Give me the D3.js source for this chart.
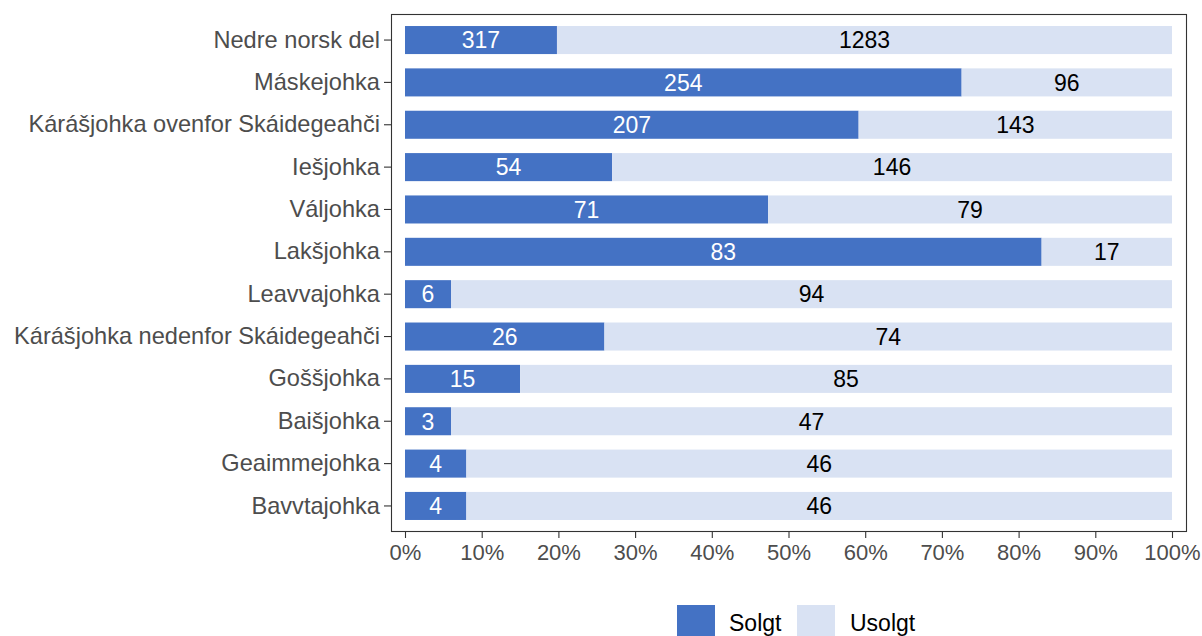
<!DOCTYPE html>
<html>
<head>
<meta charset="utf-8">
<script src="https://cdn.jsdelivr.net/npm/d3@7"></script>
<style>
  body { margin: 0; background: #fff; }
  svg text { font-family: "Liberation Sans", Arial, sans-serif; }
</style>
</head>
<body>
<svg id="chart"></svg>
<script>
var width = 1202, height = 636;

var categories = ["Nedre norsk del", "Máskejohka", "Kárášjohka ovenfor Skáidegeahči", "Iešjohka",
  "Váljohka", "Lakšjohka", "Leavvajohka", "Kárášjohka nedenfor Skáidegeahči", "Goššjohka",
  "Baišjohka", "Geaimmejohka", "Bavvtajohka"];
var solgt = [317, 254, 207, 54, 71, 83, 6, 26, 15, 3, 4, 4];
var usolgt = [1283, 96, 143, 146, 79, 17, 94, 74, 85, 47, 46, 46];
var seriesNames = ["Solgt", "Usolgt"];
var colors = ["#4472C4", "#D9E2F3"];
var xTicks = [0, 0.1, 0.2, 0.3, 0.4, 0.5, 0.6, 0.7, 0.8, 0.9, 1];

var panel = { left: 391, right: 1187, top: 14, bottom: 532 };

var svg = d3.select("#chart").attr("width", width).attr("height", height);

var x = d3.scaleLinear().domain([0, 1]).range([405, 1172]);
var y = d3.scaleBand().domain(categories)
  .range([panel.top, panel.bottom])
  .paddingInner(0.338).paddingOuter(0.284);

// build stacked rows
var rows = categories.map(function(c, i) {
  var total = solgt[i] + usolgt[i];
  return [
    { cat: c, key: 0, v: solgt[i], x0: 0, x1: solgt[i] / total },
    { cat: c, key: 1, v: usolgt[i], x0: solgt[i] / total, x1: 1 }
  ];
});
var segs = [].concat.apply([], rows);

svg.selectAll("rect.seg")
  .data(segs)
  .enter()
  .append("rect")
    .classed("seg", true)
    .attr("x", d => x(d.x0))
    .attr("width", d => x(d.x1) - x(d.x0))
    .attr("y", d => y(d.cat))
    .attr("height", y.bandwidth())
    .attr("fill", d => colors[d.key]);

svg.selectAll("text.val")
  .data(segs)
  .enter()
  .append("text")
    .classed("val", true)
    .attr("x", d => (x(d.x0) + x(d.x1)) / 2)
    .attr("y", d => y(d.cat) + y.bandwidth() / 2)
    .attr("dy", "0.36em")
    .attr("text-anchor", "middle")
    .attr("font-size", 23)
    .attr("fill", d => d.key === 0 ? "#fff" : "#000")
    .text(d => d.v);

// panel border
svg.append("rect")
  .attr("x", panel.left + 0.5).attr("y", panel.top + 0.5)
  .attr("width", panel.right - panel.left - 1).attr("height", panel.bottom - panel.top - 1)
  .attr("fill", "none").attr("stroke", "#333").attr("stroke-width", 1.1);

// axes
var yAxis = svg.append("g")
  .attr("transform", "translate(" + panel.left + ",0)")
  .call(d3.axisLeft(y).tickSize(7).tickPadding(4));
var xAxis = svg.append("g")
  .attr("transform", "translate(0," + panel.bottom + ")")
  .call(d3.axisBottom(x).tickValues(xTicks).tickFormat(d3.format(".0%")).tickSize(6).tickPadding(6));

[yAxis, xAxis].forEach(function(g) {
  g.select(".domain").remove();
  g.selectAll(".tick line").attr("stroke", "#333").attr("stroke-width", 1.1);
  g.selectAll(".tick text").attr("fill", "#4d4d4d")
    .style("font-family", "'Liberation Sans', Arial, sans-serif");
});
yAxis.selectAll(".tick text").attr("font-size", 23.6);
xAxis.selectAll(".tick text").attr("font-size", 22);

// legend
var legend = svg.append("g");
var legendItems = [
  { x: 677, tx: 729 },
  { x: 797, tx: 850 }
];
seriesNames.forEach(function(name, i) {
  legend.append("rect")
    .attr("x", legendItems[i].x).attr("y", 605)
    .attr("width", 38).attr("height", 38)
    .attr("fill", colors[i]);
  legend.append("text")
    .attr("x", legendItems[i].tx).attr("y", 623)
    .attr("dy", "0.36em")
    .attr("font-size", 23)
    .attr("fill", "#000")
    .text(name);
});
</script>
</body>
</html>
